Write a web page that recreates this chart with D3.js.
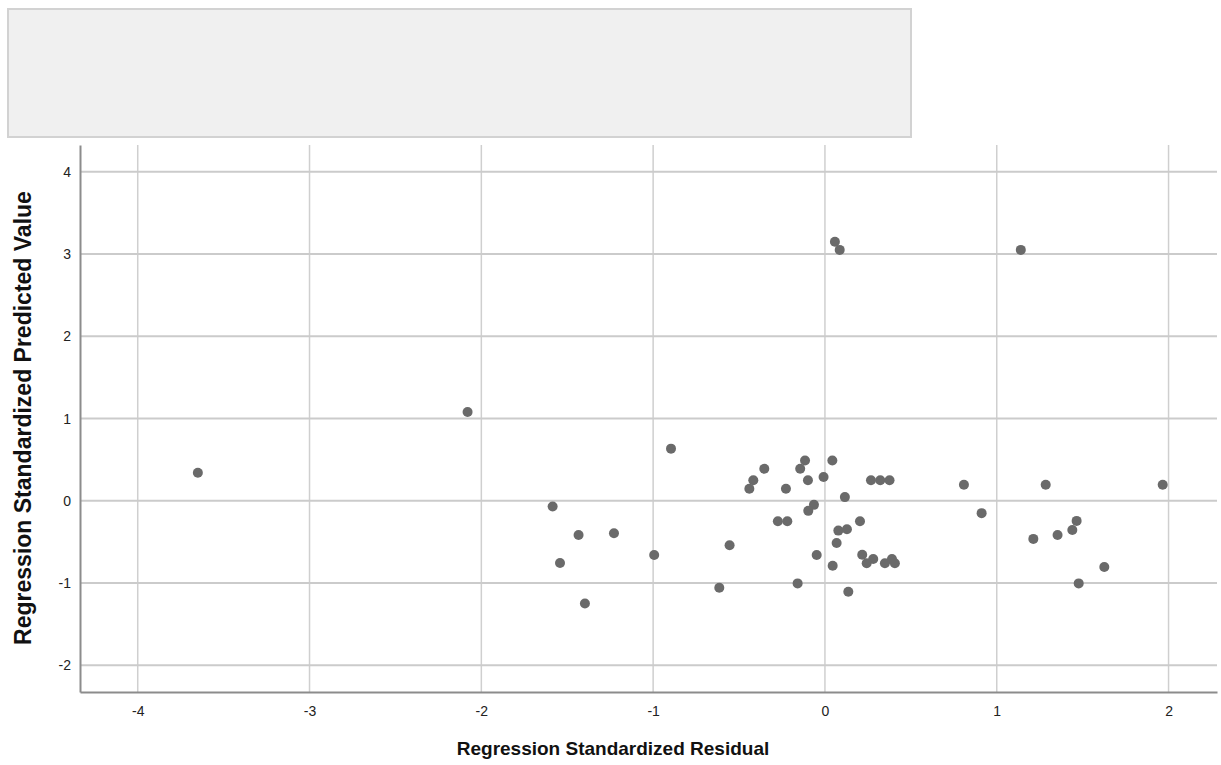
<!DOCTYPE html>
<html>
<head>
<meta charset="utf-8">
<script src="https://cdn.jsdelivr.net/npm/d3@7"></script>
<style>
  body { margin: 0; background: #fff; }
  text { font-family: "Liberation Sans", Arial, sans-serif; }
</style>
</head>
<body>
<div id="chart"></div>
<script>
const w = 1221;
const h = 765;

// Regression Standardized Residual
const residuals = [
  -3.65, -2.08, -1.585, -1.434, -1.228, -1.542, -1.397, -0.994, -0.896, -0.615, -0.555,
  -0.116, -0.144, 0.043, -0.353, -0.417, -0.44, -0.227, -0.099, -0.008, 0.268, 0.322, 0.376,
  0.116, -0.064, -0.097, -0.274, -0.219, 0.204, 0.078, 0.128, 0.068, -0.048, 0.217, 0.281,
  0.243, 0.349, 0.39, 0.407, 0.045, -0.159, 0.136,
  0.058, 0.086, 1.14,
  0.809, 0.912, 1.285, 1.966, 1.213, 1.354, 1.44, 1.465, 1.626, 1.477
];
// Regression Standardized Predicted Value
const predicted = [
  0.34, 1.08, -0.07, -0.415, -0.394, -0.756, -1.248, -0.659, 0.634, -1.057, -0.54,
  0.49, 0.39, 0.49, 0.39, 0.25, 0.146, 0.146, 0.25, 0.29, 0.25, 0.25, 0.25,
  0.045, -0.049, -0.122, -0.248, -0.248, -0.248, -0.362, -0.345, -0.512, -0.659, -0.655, -0.707,
  -0.76, -0.76, -0.707, -0.76, -0.789, -1.004, -1.106,
  3.15, 3.05, 3.05,
  0.195, -0.15, 0.195, 0.195, -0.463, -0.415, -0.354, -0.244, -0.805, -1.004
];
const xTicks = [-4, -3, -2, -1, 0, 1, 2];
const yTicks = [-2, -1, 0, 1, 2, 3, 4];

const plotLeft = 80, plotRight = 1217, plotTop = 145, plotBottom = 692;

const svg = d3.select("#chart")
  .append("svg")
  .attr("width", w)
  .attr("height", h);

const x = d3.scaleLinear().domain([-4.336, 2.282]).range([plotLeft, plotRight]);
const y = d3.scaleLinear().domain([-2.324, 4.325]).range([plotBottom, plotTop]);

// empty title box
svg.append("rect")
  .attr("x", 8).attr("y", 9)
  .attr("width", 903).attr("height", 128)
  .style("fill", "#f0f0f0")
  .style("stroke", "#d2d2d2")
  .style("stroke-width", 2);

// grid
svg.append("g").selectAll("line")
  .data(xTicks)
  .enter().append("line")
  .attr("x1", d => x(d)).attr("x2", d => x(d))
  .attr("y1", plotTop).attr("y2", plotBottom)
  .style("stroke", "#cfcfcf")
  .style("stroke-width", 1.5);

svg.append("g").selectAll("line")
  .data(yTicks)
  .enter().append("line")
  .attr("x1", plotLeft).attr("x2", plotRight)
  .attr("y1", d => y(d)).attr("y2", d => y(d))
  .style("stroke", "#cbcbcb")
  .style("stroke-width", 2);

// axes (plain hyphen for negatives, like the original)
const xAxis = svg.append("g")
  .attr("transform", `translate(0,${plotBottom})`)
  .call(d3.axisBottom(x).tickValues(xTicks).tickSize(0).tickPadding(14).tickFormat(d => String(d)));
const yAxis = svg.append("g")
  .attr("transform", `translate(${plotLeft},0)`)
  .call(d3.axisLeft(y).tickValues(yTicks).tickSize(0).tickPadding(9).tickFormat(d => String(d)));

[xAxis, yAxis].forEach(a => {
  a.select(".domain").style("stroke", "#8c8c8c").style("stroke-width", 2);
  a.selectAll("text").style("font-size", "14px").style("fill", "#222")
    .style("font-family", "'Liberation Sans', Arial, sans-serif");
});

// points
svg.append("g").selectAll("circle")
  .data(residuals.map((r, i) => [r, predicted[i]]))
  .enter().append("circle")
  .attr("cx", d => x(d[0]))
  .attr("cy", d => y(d[1]))
  .attr("r", 5)
  .style("fill", "#6a6a6a");

// axis titles
svg.append("text")
  .attr("x", 613).attr("y", 755)
  .attr("text-anchor", "middle")
  .style("font-size", "19px")
  .style("font-weight", "bold")
  .style("fill", "#111")
  .text("Regression Standardized Residual");

svg.append("text")
  .attr("transform", "translate(31,418) rotate(-90)")
  .attr("text-anchor", "middle")
  .style("font-size", "23px")
  .style("font-weight", "bold")
  .style("fill", "#111")
  .text("Regression Standardized Predicted Value");
</script>
</body>
</html>
